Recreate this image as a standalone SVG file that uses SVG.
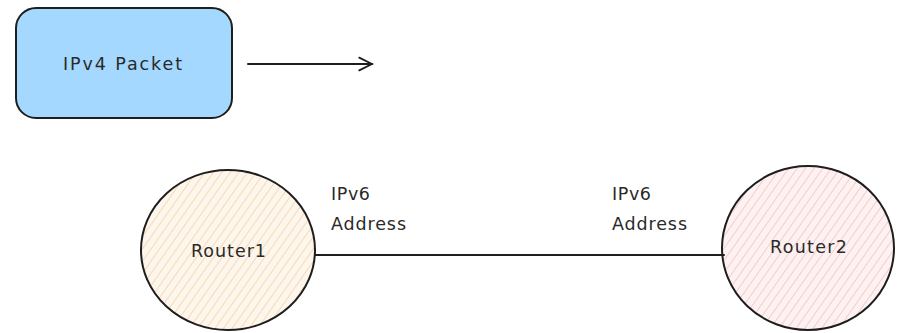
<svg xmlns="http://www.w3.org/2000/svg" width="902" height="333" viewBox="0 0 902 333">
<style>
.lbl{font-family:"DejaVu Sans","Liberation Sans",sans-serif;font-size:17.5px;fill:#2a2a2a}
.edge{stroke:#1e1e1e;stroke-width:2;fill:none;stroke-linecap:round}
</style>
<defs>
<pattern id="hatchA" patternUnits="userSpaceOnUse" width="7" height="7" patternTransform="rotate(35)">
<rect width="7" height="7" fill="#fdf6ec"/>
<line x1="0" y1="0" x2="0" y2="7" stroke="#f5d3a6" stroke-width="1.6"/>
</pattern>
<pattern id="hatchB" patternUnits="userSpaceOnUse" width="7" height="7" patternTransform="rotate(35)">
<rect width="7" height="7" fill="#fdf1f1"/>
<line x1="0" y1="0" x2="0" y2="7" stroke="#f3c4c4" stroke-width="1.6"/>
</pattern>
<marker id="arr" viewBox="0 0 20 20" refX="18" refY="10" markerWidth="16" markerHeight="16" markerUnits="userSpaceOnUse" orient="auto">
<path d="M2 2 L18 10 L2 18" fill="none" stroke="#1e1e1e" stroke-width="2.2" stroke-linecap="round"/>
</marker>
</defs>
<g id="ipv4-packet">
<rect x="16" y="8" width="216" height="110" rx="20" fill="#a5d8ff" stroke="#1e1e1e" stroke-width="2"/>
<text class="lbl" x="63" y="70" textLength="119" lengthAdjust="spacing">IPv4 Packet</text>
</g>
<g id="router1">
<ellipse cx="228" cy="250" rx="87" ry="80" fill="url(#hatchA)" stroke="#1e1e1e" stroke-width="2"/>
<text class="lbl" x="191" y="257" textLength="75" lengthAdjust="spacing">Router1</text>
</g>
<g id="router2">
<ellipse cx="808" cy="248" rx="86" ry="82" fill="url(#hatchB)" stroke="#1e1e1e" stroke-width="2"/>
<text class="lbl" x="770" y="253" textLength="77" lengthAdjust="spacing">Router2</text>
</g>
<g id="connectors">
<line class="edge" x1="248" y1="64" x2="372" y2="64" marker-end="url(#arr)"/>
<line class="edge" x1="315" y1="255" x2="724" y2="255"/>
</g>
<g id="labels">
<text class="lbl" x="331" y="200" textLength="39" lengthAdjust="spacing">IPv6</text>
<text class="lbl" x="331" y="230" textLength="75" lengthAdjust="spacing">Address</text>
<text class="lbl" x="612" y="200" textLength="39" lengthAdjust="spacing">IPv6</text>
<text class="lbl" x="612" y="230" textLength="75" lengthAdjust="spacing">Address</text>
</g>
</svg>
